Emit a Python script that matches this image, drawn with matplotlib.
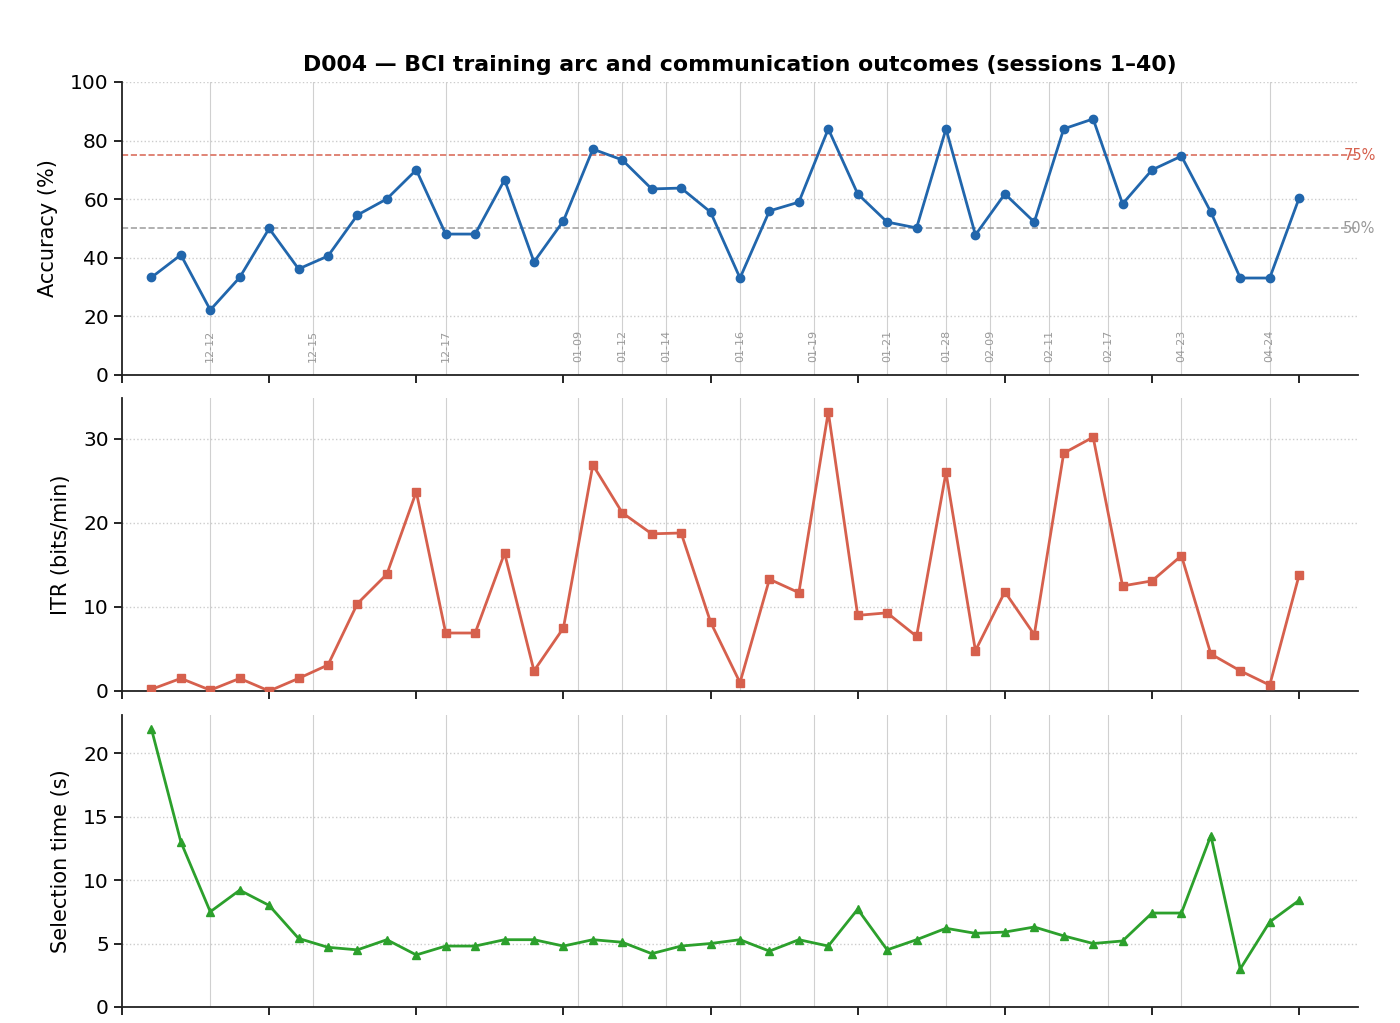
import matplotlib.pyplot as plt
import numpy as np

sessions = np.arange(1, 41)

accuracy = [33.3, 41.0, 22.2, 33.3, 50.0, 36.2, 40.6, 54.6, 60.1, 70.0,
            48.1, 48.1, 66.6, 38.6, 52.6, 77.1, 73.4, 63.5, 63.8, 55.6,
            33.1, 56.0, 59.0, 84.0, 61.8, 52.2, 50.2, 84.0, 47.8, 61.8,
            52.2, 84.0, 87.4, 58.4, 70.0, 74.7, 55.6, 33.1, 33.1, 60.4]

itr = [0.2, 1.5, 0.1, 1.5, 0.0, 1.5, 3.1, 10.4, 13.9, 23.7,
       6.9, 6.9, 16.4, 2.4, 7.5, 26.9, 21.2, 18.7, 18.8, 8.2,
       1.0, 13.3, 11.7, 33.2, 9.0, 9.3, 6.5, 26.0, 4.8, 11.8,
       6.7, 28.3, 30.2, 12.5, 13.1, 16.1, 4.4, 2.4, 0.7, 13.8]

sel_time = [21.9, 13.0, 7.5, 9.2, 8.0, 5.4, 4.7, 4.5, 5.3, 4.1,
            4.8, 4.8, 5.3, 5.3, 4.8, 5.3, 5.1, 4.2, 4.8, 5.0,
            5.3, 4.4, 5.3, 4.8, 7.7, 4.5, 5.3, 6.2, 5.8, 5.9,
            6.3, 5.6, 5.0, 5.2, 7.4, 7.4, 13.5, 3.0, 6.7, 8.4]

# date boundaries (session position, label)
date_pos = [3, 6.5, 11, 15.5, 17, 18.5, 21, 23.5, 26, 28, 29.5, 31.5, 33.5, 36, 39]
date_labels = ["12-12", "12-15", "12-17", "01-09", "01-12", "01-14", "01-16",
               "01-19", "01-21", "01-28", "02-09", "02-11", "02-17", "04-23", "04-24"]

BLUE = "#2166ac"
RED = "#d6604d"
GREEN = "#2ca02c"

fig = plt.figure(figsize=(14, 10.23), dpi=100)
W, H = 1400, 1023
left, right = 122 / W, 1358 / W
boxes = [(82, 375), (398, 691), (715, 1007)]
axes = []
for top, bot in boxes:
    ax = fig.add_axes([left, 1 - bot / H, right - left, (bot - top) / H])
    axes.append(ax)

series = [
    (accuracy, BLUE, "o", "Accuracy (%)"),
    (itr, RED, "s", "ITR (bits/min)"),
    (sel_time, GREEN, "^", "Selection time (s)"),
]

for ax, (vals, col, mk, lab) in zip(axes, series):
    for p in date_pos:
        ax.axvline(p, color="#d0d0d0", lw=0.8, zorder=0)
    ax.plot(sessions, vals, color=col, marker=mk, ms=6, lw=2, zorder=3)
    ax.set_ylabel(lab, fontsize=15, labelpad=9)
    ax.set_xlim(0, 42)
    ax.set_xticks(np.arange(0, 41, 5))
    ax.tick_params(axis="x", labelbottom=False, length=6, width=1.2)
    ax.tick_params(axis="y", labelsize=14.5, length=6, width=1.2)
    ax.yaxis.grid(True, linestyle=":", color="#cccccc", lw=1)
    ax.set_axisbelow(True)
    for s in ("top", "right"):
        ax.spines[s].set_visible(False)
    for s in ("left", "bottom"):
        ax.spines[s].set_linewidth(1.3)
        ax.spines[s].set_color("#222222")

ax0 = axes[0]
ax0.set_ylim(0, 100)
ax0.axhline(75, color=RED, ls="--", lw=1.2, alpha=0.9, zorder=2)
ax0.axhline(50, color="#999999", ls="--", lw=1.2, alpha=0.9, zorder=2)
ax0.text(41.5, 75, "75%", color=RED, fontsize=10.5, va="center", ha="left")
ax0.text(41.5, 50, "50%", color="#999999", fontsize=10.5, va="center", ha="left")
for p, d in zip(date_pos, date_labels):
    ax0.text(p, 4.5, d, rotation=90, fontsize=8, color="#999999",
             ha="center", va="bottom")
ax0.set_title("D004 \u2014 BCI training arc and communication outcomes (sessions 1\u201340)",
              fontsize=15.8, fontweight="bold", pad=8)

axes[1].set_ylim(0, max(itr) * 1.05)
axes[1].set_yticks([0, 10, 20, 30])
axes[2].set_ylim(0, max(sel_time) * 1.05)
axes[2].set_yticks([0, 5, 10, 15, 20])

fig.savefig("out.png", dpi=100)
